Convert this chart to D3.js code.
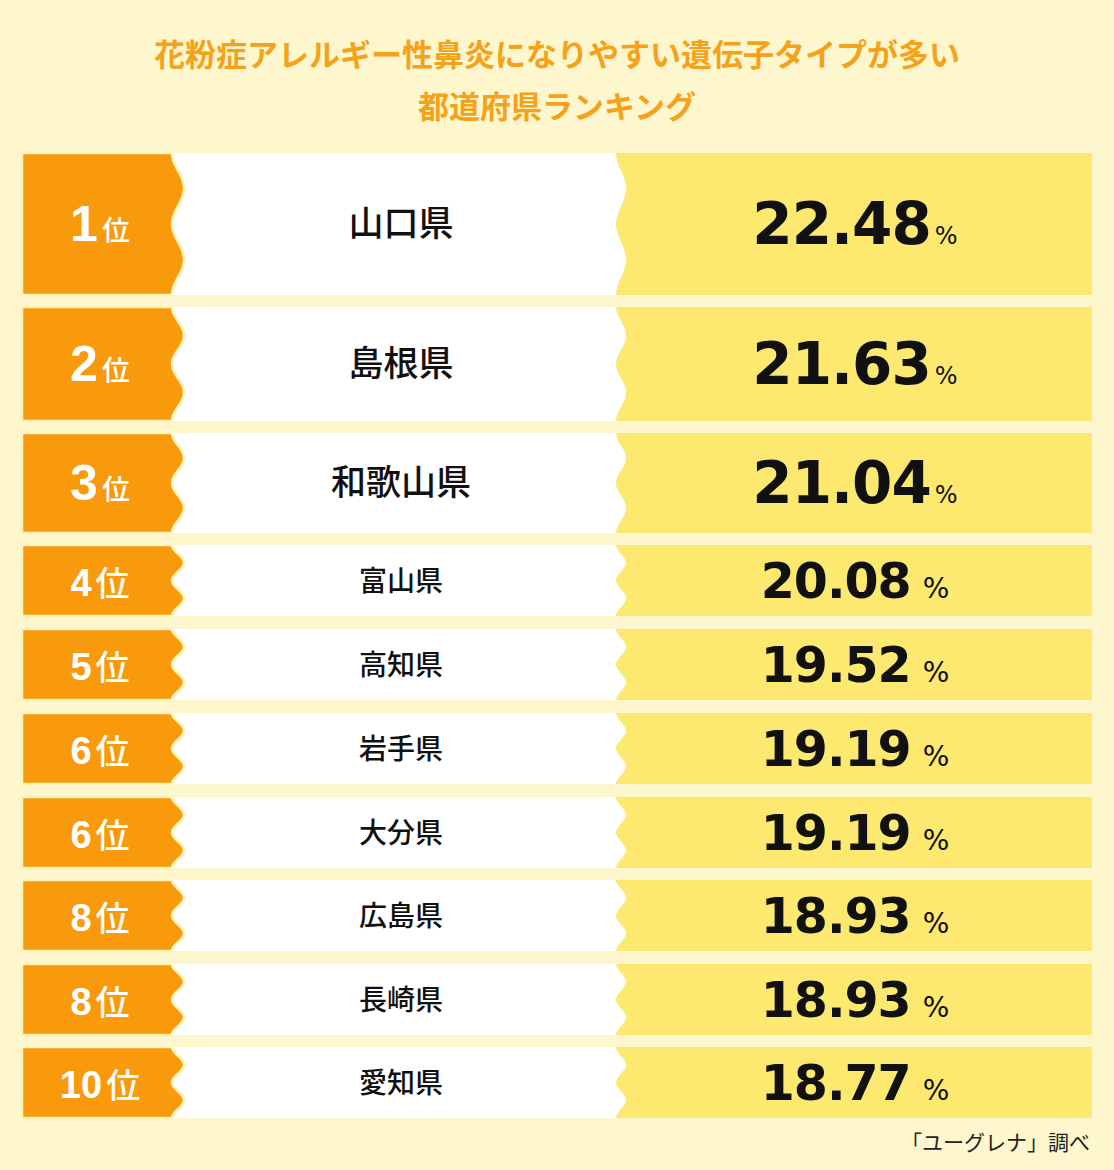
<!DOCTYPE html><html><head><meta charset="utf-8"><script src="https://cdn.jsdelivr.net/npm/d3@7"></script>
<style>body{margin:0;background:#fef7cd}</style></head><body><svg id="c" width="1114" height="1170"></svg><script>
const ranks=["1","2","3","4","5","6","6","8","8","10"];
const prefs=["山口県","島根県","和歌山県","富山県","高知県","岩手県","大分県","広島県","長崎県","愛知県"];
const values=[22.48,21.63,21.04,20.08,19.52,19.19,19.19,18.93,18.93,18.77];
const rowTops=[153,307,433,545,629,713,797,880,964,1047];
const rowBottoms=[295,421,533,616,700,784,868,951,1035,1118];
const svg=d3.select("#c");
svg.append("rect").attr("width",1114).attr("height",1170).attr("fill","#fef7cd");
const F="'Noto Sans CJK JP',sans-serif";
svg.append("text").attr("x",557).attr("y",66).attr("text-anchor","middle").attr("fill","#f5a21a").attr("font-family",F).attr("font-weight",700).attr("font-size",31).text("花粉症アレルギー性鼻炎になりやすい遺伝子タイプが多い");
svg.append("text").attr("x",557).attr("y",118).attr("text-anchor","middle").attr("fill","#f5a21a").attr("font-family",F).attr("font-weight",700).attr("font-size",31).text("都道府県ランキング");
const x0=22,x1=1092;
function wave(cx,y0,y1,a){const pts=[];for(let i=0;i<=40;i++){const t=i/40;pts.push([cx-a*Math.cos(4*Math.PI*t),y0+t*(y1-y0)]);}return pts;}
const line=d3.line();
values.forEach((v,i)=>{
 const y0=rowTops[i],y1=rowBottoms[i],h=y1-y0,big=i<3;
 svg.append("rect").attr("x",x0).attr("y",y0).attr("width",x1-x0).attr("height",h).attr("fill","#fde96f");
 const w2=wave(621,y0,y1,5);
 svg.append("path").attr("d",line([[x0,y0],...w2,[x0,y1]])+"Z").attr("fill","#fff");
 const w1=wave(178,y0,y1,6);
 svg.append("path").attr("d",line([[x0,y0],...w1,[x0,y1]])+"Z").attr("fill","#f89a0c").attr("stroke","#fff3b8").attr("stroke-width",2.5);
 svg.append("rect").attr("x",x0).attr("y",y0-2).attr("width",x1-x0).attr("height",2).attr("fill","#fef7cd");
 const cy=(y0+y1)/2;
 const g=svg.append("text").attr("x",big?100:100).attr("y",cy+(big?17:15)).attr("text-anchor","middle").attr("fill","#fff").attr("font-family","'Liberation Sans',Arial,sans-serif").attr("font-weight",700);
 g.append("tspan").attr("font-size",big?50:38).text(ranks[i]);
 g.append("tspan").attr("font-family",F).attr("font-size",big?28:34).attr("font-weight",500).attr("dx",4).text("位");
 svg.append("text").attr("x",401).attr("y",cy+(big?12:10)).attr("text-anchor","middle").attr("font-family",F).attr("font-weight",500).attr("font-size",big?35:28).attr("fill","#111").text(prefs[i]);
 const t=svg.append("text").attr("x",big?855:855).attr("y",cy+(big?20:17)).attr("text-anchor","middle").attr("fill","#111").attr("font-family","'DejaVu Sans',sans-serif").attr("font-weight",900);
 t.append("tspan").attr("font-size",big?58:49).attr("letter-spacing",-1).text(v.toFixed(2));
 t.append("tspan").attr("font-size",big?24:28).attr("font-weight",500).attr("dx",big?4:12).text("%");
});
svg.append("text").attr("x",1090).attr("y",1150).attr("text-anchor","end").attr("font-family",F).attr("font-size",21).attr("fill","#222").text("「ユーグレナ」調べ");
</script></body></html>
